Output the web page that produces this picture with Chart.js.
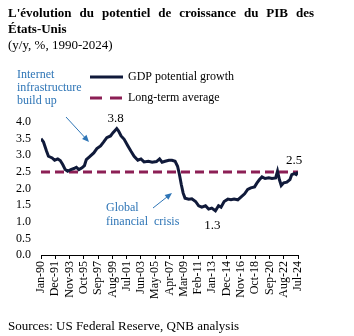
<!DOCTYPE html>
<html>
<head>
<meta charset="utf-8">
<script src="https://cdn.jsdelivr.net/npm/chart.js@4.4.1/dist/chart.umd.min.js"></script>
<style>
  html, body { margin: 0; padding: 0; background: #fff; }
  #wrap { position: relative; width: 354px; height: 336px; overflow: hidden; }
  #title {
    position: absolute; left: 8px; top: 5px; width: 306px;
    font: bold 13px "Liberation Serif", serif; line-height: 16px;
    text-align: justify; color: #000;
  }
  #subtitle {
    position: absolute; left: 8px; top: 37px;
    font: 13px "Liberation Serif", serif; line-height: 16px; color: #000;
  }
  #source {
    position: absolute; left: 8px; top: 318px;
    font: 13px "Liberation Serif", serif; line-height: 16px; color: #000;
  }
  canvas { position: absolute; left: 0; top: 0; }
</style>
</head>
<body>
<div id="wrap">
  <canvas id="gdpChart" width="354" height="336"></canvas>
  <div id="title">L'évolution du potentiel de croissance du PIB des États-Unis</div>
  <div id="subtitle">(y/y, %, 1990-2024)</div>
  <div id="source">Sources: US Federal Reserve, QNB analysis</div>
</div>
<script>
// mois depuis Jan-90
const months = [0, 4, 9, 12, 18, 22, 27, 31, 35, 39,
  43, 48, 53, 57, 61, 66, 70, 73, 78, 85,
  90, 96, 101, 106, 112, 116, 120, 122, 125, 129,
  134, 140, 145, 150, 156, 161, 166, 173, 179, 186,
  191, 195, 200, 206, 211, 216, 220, 223, 226, 229,
  232, 238, 243, 249, 254, 259, 265, 270, 275, 281,
  286, 290, 295, 301, 306, 311, 317, 322, 328, 333,
  338, 344, 348, 352, 356, 361, 367, 372, 378, 381,
  384, 387, 391, 396, 401, 404, 408, 411, 414];

const potential = [3.5, 3.4, 3.12, 2.97, 2.92, 2.85, 2.89, 2.84, 2.72, 2.57,
  2.52, 2.57, 2.6, 2.64, 2.57, 2.62, 2.69, 2.87, 2.95, 3.07,
  3.2, 3.28, 3.4, 3.53, 3.58, 3.68, 3.76, 3.8, 3.73, 3.58,
  3.48, 3.28, 3.12, 2.97, 2.85, 2.89, 2.8, 2.82, 2.79, 2.81,
  2.89, 2.79, 2.82, 2.85, 2.85, 2.82, 2.67, 2.42, 2.12, 1.86,
  1.71, 1.68, 1.69, 1.61, 1.48, 1.44, 1.48, 1.38, 1.41, 1.33,
  1.48, 1.44, 1.61, 1.68, 1.66, 1.68, 1.66, 1.74, 1.84, 1.97,
  2.02, 2.05, 2.17, 2.27, 2.35, 2.3, 2.32, 2.3, 2.32, 2.52,
  2.27, 2.09, 2.17, 2.19, 2.27, 2.42, 2.45, 2.42, 2.5];

const longTermAvg = 2.5;

const tickLabels = ['Jan-90', 'Dec-91', 'Nov-93', 'Oct-95', 'Sep-97', 'Aug-99', 'Jul-01',
  'Jun-03', 'May-05', 'Apr-07', 'Mar-09', 'Feb-11', 'Jan-13', 'Dec-14', 'Nov-16',
  'Oct-18', 'Sep-20', 'Aug-22', 'Jul-24'];
const tickStep = 23;

const NAVY = '#101a3a';
const MAROON = '#8c1f55';
const BLUE = '#2e75b6';
const SERIF = '"Liberation Serif", serif';

function arrow(ctx, x1, y1, x2, y2) {
  const a = Math.atan2(y2 - y1, x2 - x1);
  ctx.save();
  ctx.strokeStyle = BLUE;
  ctx.fillStyle = BLUE;
  ctx.lineWidth = 1;
  ctx.beginPath();
  ctx.moveTo(x1, y1);
  ctx.lineTo(x2 - 5 * Math.cos(a), y2 - 5 * Math.sin(a));
  ctx.stroke();
  ctx.beginPath();
  ctx.moveTo(x2, y2);
  ctx.lineTo(x2 - 7 * Math.cos(a) + 3 * Math.sin(a), y2 - 7 * Math.sin(a) - 3 * Math.cos(a));
  ctx.lineTo(x2 - 7 * Math.cos(a) - 3 * Math.sin(a), y2 - 7 * Math.sin(a) + 3 * Math.cos(a));
  ctx.closePath();
  ctx.fill();
  ctx.restore();
}

// légende, annotations et étiquettes de valeurs
const overlay = {
  id: 'overlay',
  afterDatasetsDraw(chart) {
    const ctx = chart.ctx;
    const xs = chart.scales.x, ys = chart.scales.y;
    ctx.save();

    // légende
    ctx.lineWidth = 3;
    ctx.strokeStyle = NAVY;
    ctx.beginPath(); ctx.moveTo(90, 77); ctx.lineTo(123, 77); ctx.stroke();
    ctx.strokeStyle = MAROON;
    ctx.setLineDash([12, 8]);
    ctx.beginPath(); ctx.moveTo(90, 98); ctx.lineTo(123, 98); ctx.stroke();
    ctx.setLineDash([]);
    ctx.fillStyle = '#000';
    ctx.font = '12px ' + SERIF;
    ctx.textBaseline = 'middle';
    ctx.textAlign = 'left';
    ctx.fillText('GDP potential growth', 128, 77);
    ctx.fillText('Long-term average', 128, 98);

    // annotations
    ctx.fillStyle = BLUE;
    ctx.fillText('Internet', 17, 75);
    ctx.fillText('infrastructure', 17, 88);
    ctx.fillText('build up', 17, 101);
    ctx.fillText('Global', 106, 208);
    ctx.fillText('financial  crisis', 106, 222);
    arrow(ctx, 66, 117, 89, 142);
    arrow(ctx, 153, 208, 172, 193);

    // max, min et dernière valeur
    let iMax = 0, iMin = 0;
    potential.forEach((v, i) => {
      if (v > potential[iMax]) iMax = i;
      if (v < potential[iMin]) iMin = i;
    });
    const iLast = potential.length - 1;
    ctx.fillStyle = '#000';
    ctx.font = '13px ' + SERIF;
    ctx.textAlign = 'center';
    ctx.fillText(potential[iMax].toFixed(1), xs.getPixelForValue(months[iMax]) - 1, ys.getPixelForValue(potential[iMax]) - 10);
    ctx.fillText(potential[iMin].toFixed(1), xs.getPixelForValue(months[iMin]) - 3, ys.getPixelForValue(potential[iMin]) + 15);
    ctx.fillText(potential[iLast].toFixed(1), xs.getPixelForValue(months[iLast]) - 4, ys.getPixelForValue(potential[iLast]) - 11);
    ctx.restore();
  }
};

function initChart() {
  const ctx = document.getElementById('gdpChart').getContext('2d');
  new Chart(ctx, {
    type: 'line',
    data: {
      datasets: [{
        label: 'GDP potential growth',
        data: months.map((m, i) => ({ x: m, y: potential[i] })),
        borderColor: NAVY,
        borderWidth: 3,
        pointRadius: 0,
        tension: 0,
        order: 1
      }, {
        label: 'Long-term average',
        data: [{ x: 0, y: longTermAvg }, { x: months[months.length - 1], y: longTermAvg }],
        borderColor: MAROON,
        borderWidth: 3,
        borderDash: [9, 5],
        pointRadius: 0,
        order: 2
      }]
    },
    options: {
      responsive: false,
      animation: false,
      layout: { padding: { left: 0, right: 56, top: 122, bottom: 0 } },
      plugins: {
        legend: { display: false },
        tooltip: { enabled: false }
      },
      scales: {
        x: {
          type: 'linear',
          min: 0,
          max: 414,
          afterBuildTicks: (s) => {
            s.ticks = tickLabels.map((_, i) => ({ value: i * tickStep }));
          },
          afterFit: (s) => { s.height = 81; },
          grid: { drawOnChartArea: false, drawTicks: true, tickLength: 4, color: '#000' },
          border: { display: true, color: '#000', width: 1 },
          ticks: {
            autoSkip: false,
            minRotation: 90,
            maxRotation: 90,
            padding: 2,
            color: '#000',
            font: { family: SERIF, size: 12 },
            callback: (v, i) => tickLabels[i]
          }
        },
        y: {
          min: 0,
          max: 4,
          afterFit: (s) => { s.width = 41; },
          grid: { display: false, drawTicks: false },
          border: { display: false },
          ticks: {
            stepSize: 0.5,
            autoSkip: false,
            padding: 10,
            color: '#000',
            font: { family: SERIF, size: 12 },
            callback: (v) => v.toFixed(1)
          }
        }
      }
    },
    plugins: [overlay]
  });
}

document.addEventListener('DOMContentLoaded', initChart);
</script>
</body>
</html>
